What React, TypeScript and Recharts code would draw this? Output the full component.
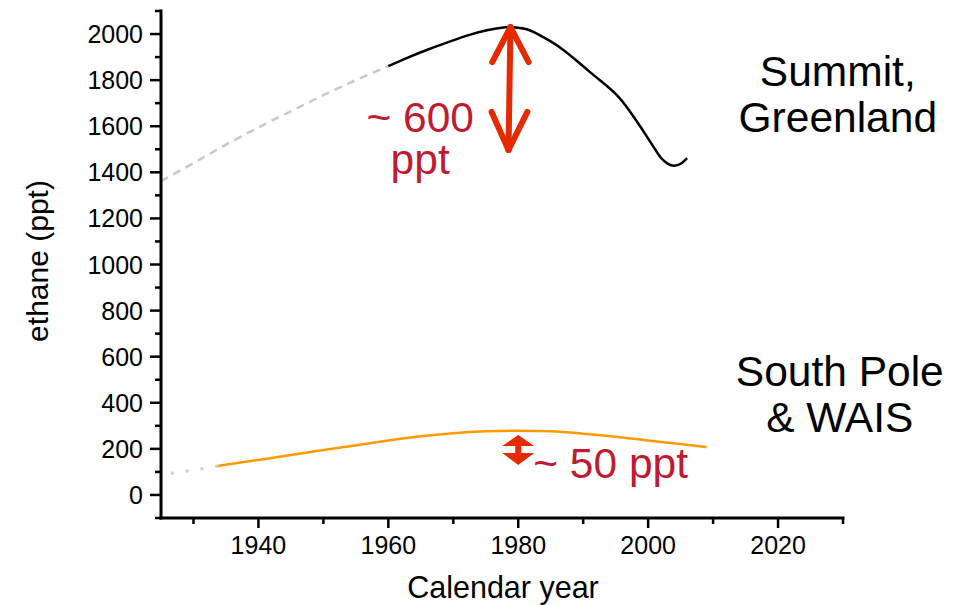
import React from 'react';
import { LineChart, Line, XAxis, YAxis, ReferenceLine, ReferenceDot } from 'recharts';

// ---- data ----
const summitYears = [1960, 1963, 1966, 1969, 1972, 1975, 1978, 1979, 1981, 1983, 1985, 1987, 1989, 1991, 1993, 1995, 1997, 1999, 2001, 2002, 2003, 2004, 2005, 2006];
const summitValues = [1861, 1898, 1932, 1963, 1992, 2015, 2029, 2030, 2023, 2000, 1968, 1930, 1884, 1836, 1790, 1740, 1672, 1590, 1503, 1462, 1438, 1429, 1437, 1462];

const summitExtYears = [1925, 1930, 1935, 1940, 1945, 1950, 1955, 1960];
const summitExtValues = [1362, 1440, 1520, 1595, 1665, 1735, 1800, 1861];

const southYears = [1933.8, 1940, 1950, 1960, 1965, 1970, 1975, 1980, 1985, 1990, 1995, 2000, 2005, 2009];
const southValues = [126, 152, 195, 236, 255, 268, 276, 279, 276, 266, 253, 236, 221, 208];

const southExtYears = [1926.5, 1930, 1933.8];
const southExtValues = [94, 108, 126];

const xTicks = [1930, 1940, 1950, 1960, 1970, 1980, 1990, 2000, 2010, 2020, 2030];
const xTickLabels = [1940, 1960, 1980, 2000, 2020];
const yTicks = [-100, 0, 100, 200, 300, 400, 500, 600, 700, 800, 900, 1000, 1100, 1200, 1300, 1400, 1500, 1600, 1700, 1800, 1900, 2000, 2100];
const yTickLabels = [0, 200, 400, 600, 800, 1000, 1200, 1400, 1600, 1800, 2000];

const toRows = (xs: number[], ys: number[]) => xs.map((year, i) => ({ year, value: ys[i] }));

const summit = toRows(summitYears, summitValues);
const summitExt = toRows(summitExtYears, summitExtValues);
const south = toRows(southYears, southValues);
const southExt = toRows(southExtYears, southExtValues);

const FONT = '"Liberation Sans", Arial, Helvetica, sans-serif';
const RED_TEXT = '#c01b30';
const RED_ARROW = '#e52a00';
const TICK_FONT = 25;
const ANNOT_FONT = 42.5;

const XTick = (props: any) => {
  const { x, y, payload } = props;
  const v = payload.value;
  const major = xTickLabels.includes(v);
  return (
    <g>
      <line x1={x} x2={x} y1={y} y2={y + (major ? 10 : 6)} stroke="#000" strokeWidth={2.5} />
      {major && (
        <text x={x} y={y + 36} textAnchor="middle" fontSize={TICK_FONT} fontFamily={FONT} fill="#000">
          {v}
        </text>
      )}
    </g>
  );
};

const YTick = (props: any) => {
  const { x, y, payload } = props;
  const v = payload.value;
  const major = yTickLabels.includes(v);
  return (
    <g>
      <line x1={x} x2={x - (major ? 11 : 6)} y1={y} y2={y} stroke="#000" strokeWidth={2.5} />
      {major && (
        <text x={x - 18} y={y + 9} textAnchor="end" fontSize={TICK_FONT} fontFamily={FONT} fill="#000">
          {v}
        </text>
      )}
    </g>
  );
};

const TextBlock = (lines: string[], color: string, anchor: string, lineHeight: number) => (p: any) => (
  <text x={p.cx} y={p.cy} textAnchor={anchor} fontSize={ANNOT_FONT} fontFamily={FONT} fill={color}>
    {lines.map((l, i) => (
      <tspan key={i} x={p.cx} dy={i === 0 ? 0 : lineHeight}>
        {l}
      </tspan>
    ))}
  </text>
);

const SmallArrow = (p: any) => {
  const { cx, cy } = p;
  return (
    <g fill={RED_ARROW}>
      <polygon points={`${cx},${cy - 15} ${cx - 16},${cy - 4} ${cx + 16},${cy - 4}`} />
      <rect x={cx - 3} y={cy - 5} width={6} height={9} />
      <polygon points={`${cx - 16},${cy + 3} ${cx + 16},${cy + 3} ${cx},${cy + 15}`} />
    </g>
  );
};

export default function App() {
  return (
    <div style={{ position: 'absolute', left: 0, top: 0, width: 963, height: 605, background: '#fff' }}>
      <LineChart
        width={963}
        height={605}
        margin={{ top: 11, right: 120, bottom: 0, left: 0 }}
        style={{ fontFamily: FONT }}
      >
        <XAxis
          dataKey="year"
          type="number"
          domain={[1925, 2030]}
          ticks={xTicks}
          interval={0}
          height={87}
          tickSize={0}
          tickMargin={0}
          tickLine={false}
          tick={<XTick />}
          axisLine={{ stroke: '#000', strokeWidth: 3, strokeLinecap: 'square' }}
          allowDataOverflow
          label={(p: any) => {
            const vb = p.viewBox;
            return (
              <text x={vb.x + vb.width / 2 + 1} y={vb.y + 80} textAnchor="middle" fontSize={30.5} fontFamily={FONT} fill="#000">
                Calendar year
              </text>
            );
          }}
        />
        <YAxis
          dataKey="value"
          type="number"
          domain={[-100, 2100]}
          ticks={yTicks}
          interval={0}
          width={161}
          tickSize={0}
          tickMargin={0}
          tickLine={false}
          tick={<YTick />}
          axisLine={{ stroke: '#000', strokeWidth: 3, strokeLinecap: 'square' }}
          allowDataOverflow
          label={(p: any) => {
            const vb = p.viewBox;
            const cx = vb.x + 37;
            const cy = 261;
            return (
              <text x={cx} y={cy} textAnchor="middle" dominantBaseline="central" fontSize={30} fontFamily={FONT} fill="#000" transform={`rotate(-90 ${cx} ${cy})`}>
                ethane (ppt)
              </text>
            );
          }}
        />

        <Line data={summitExt} dataKey="value" type="monotone" stroke="#c8c8c8" strokeWidth={2.5} strokeDasharray="8 6" dot={false} isAnimationActive={false} />
        <Line data={summit} dataKey="value" type="natural" stroke="#000" strokeWidth={2.5} dot={false} isAnimationActive={false} />
        <Line data={southExt} dataKey="value" type="monotone" stroke="#cccccc" strokeWidth={3} strokeDasharray="3 12" dot={false} isAnimationActive={false} />
        <Line data={south} dataKey="value" type="monotone" stroke="#ff9a00" strokeWidth={2.5} dot={false} isAnimationActive={false} />

        {/* big double arrow */}
        <ReferenceLine segment={[{ x: 1978.8, y: 2030 }, { x: 1978.5, y: 1497 }]} stroke={RED_ARROW} strokeWidth={6} strokeLinecap="round" ifOverflow="visible" />
        <ReferenceLine segment={[{ x: 1976.0, y: 1878 }, { x: 1978.8, y: 2030 }]} stroke={RED_ARROW} strokeWidth={6} strokeLinecap="round" ifOverflow="visible" />
        <ReferenceLine segment={[{ x: 1981.6, y: 1878 }, { x: 1978.8, y: 2030 }]} stroke={RED_ARROW} strokeWidth={6} strokeLinecap="round" ifOverflow="visible" />
        <ReferenceLine segment={[{ x: 1975.9, y: 1662 }, { x: 1978.5, y: 1497 }]} stroke={RED_ARROW} strokeWidth={6} strokeLinecap="round" ifOverflow="visible" />
        <ReferenceLine segment={[{ x: 1981.4, y: 1662 }, { x: 1978.5, y: 1497 }]} stroke={RED_ARROW} strokeWidth={6} strokeLinecap="round" ifOverflow="visible" />

        {/* small double arrow */}
        <ReferenceDot x={1980} y={195} r={0} ifOverflow="visible" shape={SmallArrow} />

        {/* annotations */}
        <ReferenceDot x={1964.9} y={1576} r={0} ifOverflow="visible" shape={TextBlock(['~ 600', 'ppt'], RED_TEXT, 'middle', 42)} />
        <ReferenceDot x={1982.3} y={74} r={0} ifOverflow="visible" shape={TextBlock(['~ 50 ppt'], RED_TEXT, 'start', 40)} />
        <ReferenceDot x={2029.2} y={1774} r={0} ifOverflow="visible" shape={TextBlock(['Summit,', 'Greenland'], '#000', 'middle', 46)} />
        <ReferenceDot x={2029.5} y={473} r={0} ifOverflow="visible" shape={TextBlock(['South Pole', '& WAIS'], '#000', 'middle', 46)} />
      </LineChart>
    </div>
  );
}
